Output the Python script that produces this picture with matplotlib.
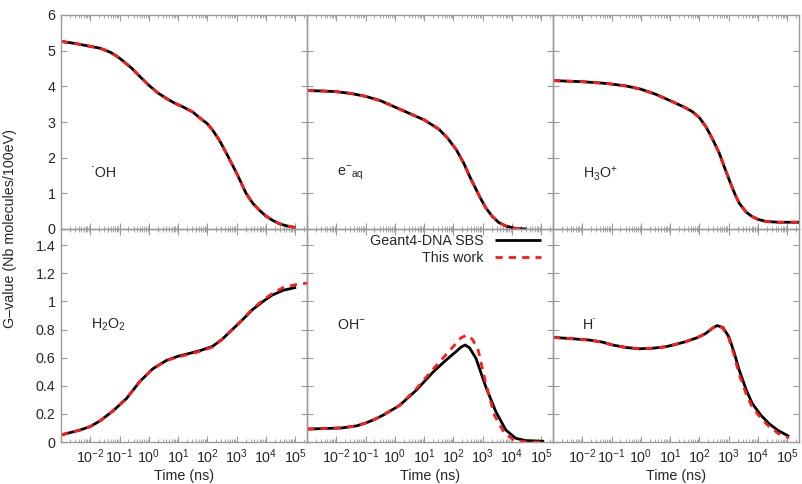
import numpy as np
import matplotlib
matplotlib.use("Agg")
import matplotlib.pyplot as plt
from matplotlib.ticker import LogLocator, NullFormatter, FixedLocator

plt.rcParams['font.family'] = ['Liberation Sans', 'DejaVu Sans']
plt.rcParams['mathtext.fontset'] = 'custom'
plt.rcParams['mathtext.rm'] = 'Liberation Sans'
plt.rcParams['mathtext.it'] = 'Liberation Sans:italic'
plt.rcParams['mathtext.default'] = 'rm'

# ---- data (time as log10(ns), G-value) ----
oh_logt = [-3, -2.5, -2, -1.67, -1.3, -1, -0.6, -0.3, 0, 0.3, 0.6, 0.9, 1.15, 1.5,
           1.73, 2.0, 2.17, 2.4, 2.65, 2.85, 3.0, 3.15, 3.32, 3.55, 3.77, 4.0, 4.21,
           4.45, 4.69, 5.0]
oh_g = [5.26, 5.2, 5.12, 5.07, 4.95, 4.79, 4.52, 4.27, 4.03, 3.82, 3.66, 3.52, 3.43,
        3.28, 3.12, 2.95, 2.78, 2.5, 2.12, 1.8, 1.56, 1.3, 1.0, 0.72, 0.53, 0.36, 0.25,
        0.15, 0.09, 0.04]

eaq_logt = [-3, -2.5, -2, -1.5, -1, -0.5, 0, 0.5, 1.0, 1.5, 1.8, 2.1, 2.35, 2.55,
            2.75, 2.9, 3.1, 3.33, 3.55, 3.8, 4.1, 4.5]
eaq_g = [3.88, 3.87, 3.85, 3.8, 3.72, 3.6, 3.42, 3.24, 3.06, 2.8, 2.55, 2.22, 1.85,
         1.48, 1.15, 0.9, 0.6, 0.35, 0.18, 0.08, 0.02, 0.0]

h3o_logt = [-3, -2, -1.16, -0.5, 0, 0.5, 1.08, 1.5, 1.76, 2.0, 2.22, 2.45, 2.68,
            2.85, 3.02, 3.2, 3.36, 3.6, 3.8, 4.0, 4.28, 4.7, 5.4]
h3o_g = [4.16, 4.13, 4.08, 4.01, 3.92, 3.78, 3.57, 3.41, 3.29, 3.12, 2.87, 2.52, 2.12,
         1.74, 1.37, 1.0, 0.72, 0.47, 0.35, 0.27, 0.21, 0.19, 0.19]

h2o2_logt = [-3, -2.35, -2, -1.67, -1.23, -0.76, -0.31, 0.13, 0.6, 1.0, 1.29, 1.75,
             2.17, 2.5, 2.85, 3.2, 3.53, 3.9, 4.21, 4.6, 5.03]
h2o2_g = [0.05, 0.085, 0.11, 0.15, 0.22, 0.31, 0.43, 0.52, 0.58, 0.61, 0.625, 0.65,
          0.68, 0.73, 0.80, 0.87, 0.94, 1.0, 1.045, 1.08, 1.10]
h2o2_logt_tw = [-3, -2.35, -2, -1.67, -1.23, -0.76, -0.31, 0.13, 0.6, 1.0, 1.29, 1.75,
                2.17, 2.5, 2.85, 3.2, 3.53, 3.9, 4.21, 4.6, 5.03, 5.4]
h2o2_g_tw = [0.05, 0.085, 0.11, 0.15, 0.22, 0.31, 0.43, 0.52, 0.58, 0.605, 0.62, 0.645,
             0.675, 0.73, 0.80, 0.87, 0.945, 1.01, 1.055, 1.10, 1.12, 1.13]

ohm_logt = [-3, -2.5, -1.81, -1.3, -0.97, -0.7, -0.41, 0.16, 0.74, 1.27, 1.6, 1.9,
            2.1, 2.26, 2.4, 2.55, 2.77, 3.11, 3.45, 3.79, 4.13, 4.47, 5.1]
ohm_g = [0.092, 0.095, 0.10, 0.115, 0.137, 0.16, 0.19, 0.26, 0.37, 0.49, 0.555, 0.61,
         0.645, 0.675, 0.69, 0.67, 0.595, 0.39, 0.215, 0.085, 0.026, 0.01, 0.005]
ohm_logt_tw = [-3, -2.5, -1.81, -1.3, -0.97, -0.7, -0.41, 0.16, 0.74, 1.27, 1.7, 2.0,
               2.25, 2.45, 2.65, 2.85, 3.1, 3.4, 3.75, 4.1, 4.5, 5.1]
ohm_g_tw = [0.092, 0.095, 0.10, 0.115, 0.137, 0.16, 0.19, 0.26, 0.38, 0.51, 0.61, 0.68,
            0.74, 0.76, 0.73, 0.65, 0.42, 0.19, 0.06, 0.01, 0.0, 0.0]

h_logt = [-3, -2.5, -1.76, -1.3, -0.97, -0.5, -0.06, 0.4, 0.84, 1.2, 1.52, 1.9, 2.2,
          2.45, 2.6, 2.8, 3.0, 3.18, 3.36, 3.6, 3.8, 4.1, 4.38, 4.7, 5.06]
h_g = [0.744, 0.737, 0.725, 0.71, 0.69, 0.672, 0.663, 0.667, 0.677, 0.695, 0.713, 0.74,
       0.77, 0.81, 0.828, 0.815, 0.75, 0.64, 0.51, 0.37, 0.275, 0.19, 0.13, 0.08, 0.04]
h_g_tw = [0.744, 0.737, 0.725, 0.71, 0.69, 0.672, 0.663, 0.667, 0.677, 0.695, 0.713,
          0.74, 0.77, 0.81, 0.83, 0.81, 0.74, 0.62, 0.48, 0.34, 0.25, 0.17, 0.11, 0.06,
          0.03]

top_yticks = [0, 1, 2, 3, 4, 5, 6]
top_ylabels = ['0', '1', '2', '3', '4', '5', '6']
bot_yticks = [0, 0.2, 0.4, 0.6, 0.8, 1.0, 1.2, 1.4]
bot_ylabels = ['0', '0.2', '0.4', '0.6', '0.8', '1', '1.2', '1.4']
x_exponents = [-2, -1, 0, 1, 2, 3, 4, 5]

panels = [
    # (row, col, label, ref_t, ref_g, tw_t, tw_g)
    (0, 0, "\u02d9OH", oh_logt, oh_g, oh_logt, oh_g),
    (0, 1, r"e$^{-}$$_{aq}$", eaq_logt, eaq_g, eaq_logt, eaq_g),
    (0, 2, r"H$_3$O$^{+}$", h3o_logt, h3o_g, h3o_logt, h3o_g),
    (1, 0, r"H$_2$O$_2$", h2o2_logt, h2o2_g, h2o2_logt_tw, h2o2_g_tw),
    (1, 1, r"OH$^{-}$", ohm_logt, ohm_g, ohm_logt_tw, ohm_g_tw),
    (1, 2, "H\u02d9", h_logt, h_g, h_logt, h_g_tw),
]

W, H = 802, 484
fig = plt.figure(figsize=(W / 100, H / 100), dpi=100)

col_left = [61, 307, 553]
col_w = 246
row_top = [15, 229]
row_bot = [229, 442]

txt = '#262626'
edge = '#9a9a9a'
fs = 10.3

for row, col, label, rt, rg, tt, tg in panels:
    x0 = col_left[col] / W
    y0 = 1 - row_bot[row] / H
    h = (row_bot[row] - row_top[row]) / H
    ax = fig.add_axes([x0, y0, col_w / W, h])
    ax.set_facecolor('none')

    l1, = ax.plot(10 ** np.array(rt), rg, color='black', lw=2.0, solid_capstyle='butt',
                  label='Geant4-DNA SBS')
    l2, = ax.plot(10 ** np.array(tt), tg, color='#ff1a1a', lw=2.0, dashes=(2.6, 2.2),
                  label='This work')

    ax.set_xscale('log')
    ax.set_xlim(1e-3, 10 ** 5.4)
    ax.xaxis.set_minor_locator(LogLocator(base=10, subs=np.arange(2, 10), numticks=20))
    ax.xaxis.set_minor_formatter(NullFormatter())

    if row == 0:
        ax.set_ylim(0, 6)
        ax.yaxis.set_major_locator(FixedLocator(top_yticks))
        ax.xaxis.set_major_locator(FixedLocator([10.0 ** k for k in [-3] + x_exponents]))
        ax.set_xticklabels([])
        ylabels = top_ylabels
    else:
        ax.set_ylim(0, 1.515)
        ax.yaxis.set_major_locator(FixedLocator(bot_yticks))
        ax.xaxis.set_major_locator(FixedLocator([10.0 ** k for k in x_exponents]))
        ax.set_xticklabels([r"$10^{%d}$" % k for k in x_exponents])
        ax.set_xlabel('Time (ns)', fontsize=fs, color=txt, labelpad=2)
        ylabels = bot_ylabels

    if col == 0:
        ax.set_yticklabels(ylabels)
    else:
        ax.set_yticklabels([])

    ax.tick_params(which='both', direction='in', top=True, right=True, color=edge,
                   labelsize=fs, labelcolor=txt, pad=4)
    ax.tick_params(which='major', length=4, width=0.8)
    ax.tick_params(which='minor', length=2, width=0.6)
    for s in ax.spines.values():
        s.set_color(edge)
        s.set_linewidth(1.0)

    ax.text(0.12, 0.26 if row == 0 else 0.55, label, transform=ax.transAxes,
            fontsize=fs, color=txt, ha='left', va='center')

    if (row, col) == (1, 1):
        ax.legend(handles=[l1, l2], loc='upper right', bbox_to_anchor=(0.985, 1.015),
                  frameon=False, markerfirst=False, fontsize=fs, handlelength=3.2,
                  handletextpad=0.8, labelspacing=0.2, borderaxespad=0.2,
                  labelcolor=txt)

fig.text(0.013, 1 - 229 / H, 'G\u2013value (Nb molecules/100eV)', rotation=90,
         ha='center', va='center', fontsize=fs, color=txt)

fig.savefig('out.png', dpi=100)
